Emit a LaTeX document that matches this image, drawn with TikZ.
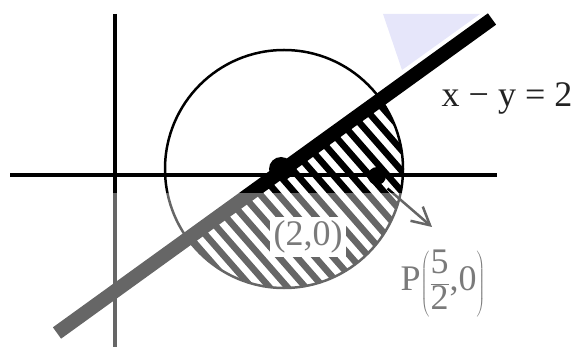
\documentclass[tikz,border=0pt]{standalone}
\usepackage{fontspec}
\setmainfont{Liberation Serif}
\usetikzlibrary{arrows.meta}
\definecolor{lavender}{HTML}{E6E6FA}
\definecolor{ink}{HTML}{222222}

\begin{document}
\begin{tikzpicture}[x=1pt,y=-1pt,
        axis/.style={line width=3.5pt},
        dot/.style={circle,fill,inner sep=0pt},
        lbl/.style={font=\fontsize{36}{40}\selectfont,text=ink}]
        \useasboundingbox (0,0) rectangle (578,347);
        \coordinate (C) at (284,169);
        \coordinate (A) at (57,333);
        \coordinate (B) at (492,19);
        \fill[lavender] (383,14) -- (480,14) -- (402,70) -- cycle;
        \draw[axis] (10,175) -- (497,175);
        \draw[axis] (115,14) -- (115,347);
        \draw[line width=2.5pt] (C) circle (119);
        \begin{scope}
          \clip (C) circle (119);
          \clip (0,374) -- (600,-59) -- (600,400) -- (0,400) -- cycle;
          \foreach \i in {-20,...,20}
            \draw[line width=6.5pt] ({134+\i*18},9) -- ({414+\i*18},329);
        \end{scope}
        \node[lbl,fill=white,inner sep=4pt] (center lbl) at (308,237) {(2,0)};
        \draw[line width=14pt] (A) -- (B);
        \node[dot,minimum size=24pt] (center) at (281,169) {};
        \node[dot,minimum size=18pt] (P) at (377,176) {};
        \coordinate (tip) at (432,227);
        \draw[line width=2.5pt,-{Straight Barb[angle=56:20pt]}] (P.south east) ++(4,6) -- (tip);
        \node[lbl] (P lbl) at (443,284)
          {P$\displaystyle\left(\frac{\mbox{5}}{\mbox{2}}\mbox{,0}\right)$};
        \node[lbl] (line lbl) at (507,98) {x − y = 2};
        \fill[white,opacity=0.4] (0,193) rectangle (578,347);
      \end{tikzpicture}
\end{document}
